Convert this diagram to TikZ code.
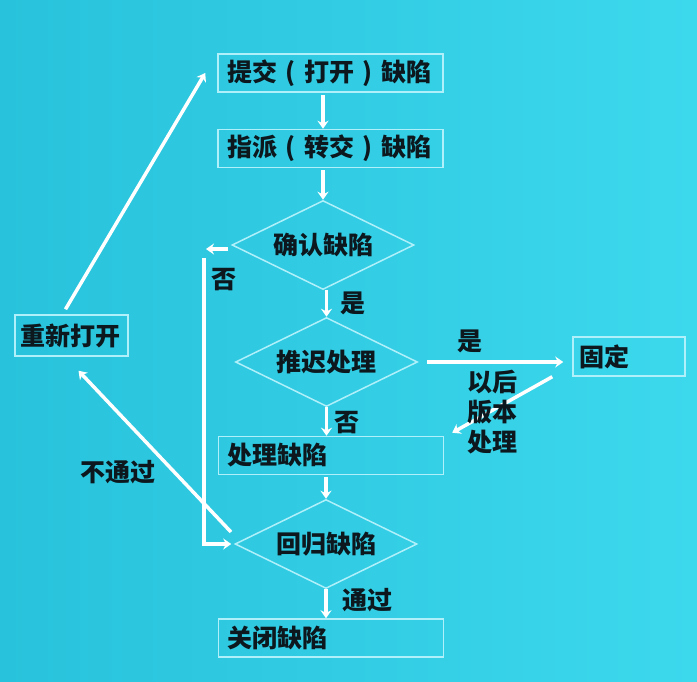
\documentclass[tikz,border=0pt]{standalone}
\usepackage{fontspec}
\setmainfont{Noto Sans CJK SC}
\usetikzlibrary{shapes.geometric,arrows.meta}
\definecolor{bgl}{RGB}{40,194,220}
\definecolor{bgr}{RGB}{60,216,236}
\definecolor{edgec}{RGB}{175,240,250}
\definecolor{ink}{RGB}{12,24,30}
\newcommand{\lpar}{\makebox[27pt]{(}}
\newcommand{\rpar}{\makebox[27pt]{)}}
\begin{document}
\begin{tikzpicture}[x=1pt,y=-1pt,
  font=\fontsize{25}{30}\selectfont\bfseries,
  box/.style={draw=edgec, line width=1.5pt, rectangle, minimum height=38pt, text width=207pt, inner xsep=9pt, inner ysep=0pt, align=left, text=ink},
  dia/.style={draw=edgec, line width=1.5pt, diamond, aspect=2, inner sep=0pt, minimum width=182pt, minimum height=89pt, text=ink},
  arr/.style={draw=white, line width=3.5pt, -{Stealth[length=8pt,width=11pt]}},
  lab/.style={text=ink, inner sep=1pt}]
\shade[left color=bgl,right color=bgr] (0,0) rectangle (697,681);
\useasboundingbox (0,0) rectangle (697,681);
% nodes
\node[box] (b1) at (330.5,73) {提交\lpar 打开\rpar 缺陷};
\node[box] (b2) at (330.5,148.5) {指派\lpar 转交\rpar 缺陷};
\node[dia] (d1) at (323,245) {确认缺陷};
\node[dia] (d2) at (326.5,362) {推迟处理};
\node[box, text width=100pt, inner xsep=6pt, minimum height=39pt] (fix) at (629,356.5) {固定};
\node[box] (b3) at (331,455.5) {处理缺陷};
\node[dia] (d3) at (326,544) {回归缺陷};
\node[box] (b4) at (331,638) {关闭缺陷};
\node[box, text width=103pt, inner xsep=5pt, minimum height=41pt] (re) at (71.5,335.5) {重新打开};
% main flow
\draw[arr] ([yshift=-2pt]b1.south -| d1) -- (b2.north -| d1);
\draw[arr] ([yshift=-2pt]b2.south -| d1) -- (d1.north);
\draw[arr] (d1.south -| d2) -- (d2.north);
\draw[arr] (d2.south) -- (b3.north -| d2);
\draw[arr] ([yshift=-2pt]b3.south -| d3) -- (d3.north);
\draw[arr] (d3.south) -- (b4.north -| d3);
\draw[arr] ([xshift=9pt]d2.east) -- ([xshift=-9pt]fix.west |- d2.east);
\draw[arr] ([xshift=-20pt]fix.south west) -- ([xshift=8pt,yshift=3pt]b3.north east);
% no-loop
\coordinate (n1) at (206,249);
\coordinate (v1) at (204,258);
\draw[arr] ([xshift=-3pt]d1.west |- n1) -- (n1);
\draw[arr] (v1) -- (v1 |- d3.west) -- ([xshift=-3pt]d3.west);
% reopen
\coordinate (nf) at (231,532);
\draw[arr] (nf) -- ([xshift=7pt,yshift=-14pt]re.south);
\draw[arr] ([xshift=-6pt,yshift=5pt]re.north) -- ([xshift=-12pt]b1.west);
% labels
\node[lab] (l1) at (224,280) {否};
\node[lab] (l2) at (353,303) {是};
\node[lab] (l3) at (470,341) {是};
\node[lab, align=center] (l4) at (492,412) {以后\\版本\\处理};
\node[lab] (l5) at (347,423) {否};
\node[lab] (l6) at (367,600) {通过};
\node[lab] (l7) at (118,472) {不通过};
\end{tikzpicture}
\end{document}
